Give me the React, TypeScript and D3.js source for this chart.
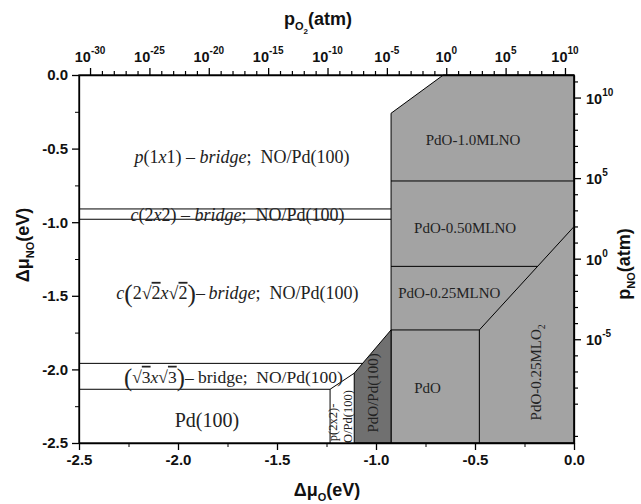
import React, { useRef, useEffect } from "react";
import * as d3 from "d3";

const W = 641;
const H = 504;

// axis ticks
const muOTicks = [-2.5, -2.0, -1.5, -1.0, -0.5, 0.0];
const muOMinor = [-2.25, -1.75, -1.25, -0.75, -0.25];
const muNOTicks = [0.0, -0.5, -1.0, -1.5, -2.0, -2.5];
const muNOMinor = [-0.25, -0.75, -1.25, -1.75, -2.25];
const pO2Exps = [-30, -25, -20, -15, -10, -5, 0, 5, 10];
const pNOExps = [-5, 0, 5, 10];

// phase regions, points are [muO, muNO] in eV
const pdoArea = [[-0.924, -0.26], [-0.66, 0], [0, 0], [0, -2.5], [-0.924, -2.5]];
const pdoPdArea = [[-1.11, -2.5], [-1.11, -2.026], [-0.924, -1.732], [-0.924, -2.5]];
const boundaryLines = [
  [[-2.5, -0.91], [-0.924, -0.91]],
  [[-2.5, -0.98], [-0.924, -0.98]],
  [[-2.5, -1.959], [-1.068, -1.959]],
  [[-2.5, -2.135], [-1.232, -2.135]],
  [[-1.232, -2.135], [-1.11, -2.026]],
  [[-1.232, -2.135], [-1.232, -2.5]],
  [[-0.924, -0.72], [0, -0.72]],
  [[-0.924, -1.3], [-0.184, -1.3]],
  [[0, -1.03], [-0.478, -1.732]],
  [[-0.924, -1.732], [-0.478, -1.732]],
  [[-0.478, -1.732], [-0.478, -2.5]],
];

type Seg = { t: string; it?: boolean; ov?: boolean; big?: boolean; sub?: boolean };

const p1x1Label: Seg[] = [
  { t: "p", it: true }, { t: "(1" }, { t: "x", it: true }, { t: "1) \u2013 " },
  { t: "bridge", it: true }, { t: ";  NO/Pd(100)" },
];
const c2x2Label: Seg[] = [
  { t: "c", it: true }, { t: "(2" }, { t: "x", it: true }, { t: "2) \u2013 " },
  { t: "bridge", it: true }, { t: ";  NO/Pd(100)" },
];
const c2r2Label: Seg[] = [
  { t: "c", it: true }, { t: "(", big: true }, { t: "2\u221A" }, { t: "2", ov: true },
  { t: "x", it: true }, { t: "\u221A" }, { t: "2", ov: true }, { t: ")", big: true },
  { t: "\u2013\u2009" }, { t: "bridge", it: true }, { t: ";  NO/Pd(100)" },
];
const r3Label: Seg[] = [
  { t: "(", big: true }, { t: "\u221A" }, { t: "3", ov: true }, { t: "x", it: true },
  { t: "\u221A" }, { t: "3", ov: true }, { t: ")", big: true }, { t: "\u2013 bridge;  NO/Pd(100)" },
];
const mlo2Label: Seg[] = [{ t: "PdO-0.25MLO" }, { t: "2", sub: true }];

const App = () => {
  const svgRef = useRef<SVGSVGElement>(null);

  useEffect(() => {
    const svg = d3.select(svgRef.current);
    svg.selectAll("*").remove();

    const x = d3.scaleLinear().domain([-2.5, 0]).range([79, 574]);
    const y = d3.scaleLinear().domain([0, -2.5]).range([75, 443]);
    const xTop = d3.scaleLog().domain([10 ** -30.93, 10 ** 10.76]).range([79, 574]);
    const yRight = d3.scaleLog().domain([10 ** 11.4, 10 ** -11.44]).range([75, 443]);

    const line = d3.line<number[]>().x(d => x(d[0])).y(d => y(d[1]));
    const serif = "'Liberation Serif', 'Times New Roman', serif";
    const sans = "'Liberation Sans', Arial, sans-serif";

    // filled regions
    svg.append("path").attr("d", line(pdoArea) + "Z")
      .attr("fill", "#a3a3a3").attr("stroke", "#000").attr("stroke-width", 1);
    svg.append("path").attr("d", line(pdoPdArea) + "Z")
      .attr("fill", "#707070").attr("stroke", "#000").attr("stroke-width", 1);

    svg.append("g").selectAll("path").data(boundaryLines).enter().append("path")
      .attr("d", d => line(d))
      .attr("fill", "none").attr("stroke", "#000").attr("stroke-width", 1);

    // rich text helper
    const rich = (segs: Seg[], px: number, py: number, size: number, rot = 0) => {
      const t = svg.append("text")
        .attr("transform", `translate(${px},${py}) rotate(${rot})`)
        .attr("text-anchor", "middle")
        .attr("dominant-baseline", "central")
        .attr("font-family", serif)
        .attr("font-size", size)
        .attr("fill", "#222")
        .style("white-space", "pre");
      let shifted = false;
      segs.forEach(s => {
        const ts = t.append("tspan").text(s.t);
        if (s.it) ts.attr("font-style", "italic");
        if (s.ov) ts.style("text-decoration", "overline");
        if (s.big) ts.attr("font-size", size * 1.4).attr("font-weight", 300);
        if (s.sub) { ts.attr("font-size", size * 0.65).attr("dy", size * 0.3); shifted = true; }
        else if (shifted) { ts.attr("dy", -size * 0.3); shifted = false; }
      });
      return t;
    };

    rich(p1x1Label, x(-1.677), y(-0.557), 18);
    rich(c2x2Label, x(-1.70), y(-0.952), 18);
    rich(c2r2Label, x(-1.70), y(-1.48), 18);
    rich(r3Label, x(-1.72), y(-2.05), 17.5);
    rich([{ t: "Pd(100)" }], x(-1.854), y(-2.344), 20);
    rich([{ t: "p(2x2)-" }], x(-1.215), y(-2.36), 12.5, -90);
    rich([{ t: "O/Pd(100)" }], x(-1.14), y(-2.32), 12.5, -90);
    rich([{ t: "PdO/Pd(100)" }], x(-1.015), y(-2.16), 15, -90);
    rich([{ t: "PdO" }], x(-0.74), y(-2.126), 15);
    rich(mlo2Label, x(-0.19), y(-2.02), 15, -90);
    rich([{ t: "PdO-1.0MLNO" }], x(-0.51), y(-0.44), 15);
    rich([{ t: "PdO-0.50MLNO" }], x(-0.55), y(-1.04), 15);
    rich([{ t: "PdO-0.25MLNO" }], x(-0.63), y(-1.48), 15);

    // axes
    const fmt = (d: number) => d.toFixed(1);
    const styleAxis = (g: d3.Selection<SVGGElement, unknown, null, undefined>) => {
      g.selectAll("path.domain").attr("stroke-width", 1.3);
      g.selectAll("line").attr("stroke-width", 1.3);
      g.selectAll("text").attr("font-family", sans).attr("font-weight", "bold")
        .attr("font-size", 15).attr("fill", "#111");
    };

    const gB = svg.append("g").attr("transform", `translate(0,${y(-2.5)})`)
      .call(d3.axisBottom(x).tickValues(muOTicks).tickSize(7).tickSizeOuter(0).tickPadding(4).tickFormat(d => fmt(+d)));
    styleAxis(gB);
    svg.append("g").attr("transform", `translate(0,${y(-2.5)})`)
      .call(d3.axisBottom(x).tickValues(muOMinor).tickSize(4).tickFormat(() => ""))
      .call(g => g.select(".domain").remove());

    const gL = svg.append("g").attr("transform", `translate(${x(-2.5)},0)`)
      .call(d3.axisLeft(y).tickValues(muNOTicks).tickSize(7).tickSizeOuter(0).tickPadding(4).tickFormat(d => fmt(+d)));
    styleAxis(gL);
    svg.append("g").attr("transform", `translate(${x(-2.5)},0)`)
      .call(d3.axisLeft(y).tickValues(muNOMinor).tickSize(4).tickFormat(() => ""))
      .call(g => g.select(".domain").remove());

    // top log axis p_O2
    const topMinor = d3.range(-30, 11).filter(e => e % 5 !== 0).map(e => 10 ** e);
    const gT = svg.append("g").attr("transform", `translate(0,${y(0)})`)
      .call(d3.axisTop(xTop).tickValues(pO2Exps.map(e => 10 ** e)).tickSize(7).tickSizeOuter(0).tickFormat(() => ""));
    styleAxis(gT);
    svg.append("g").attr("transform", `translate(0,${y(0)})`)
      .call(d3.axisTop(xTop).tickValues(topMinor).tickSize(4).tickFormat(() => ""))
      .call(g => g.select(".domain").remove()).selectAll("line").attr("stroke-width", 1.2);

    const topLab = svg.append("g").attr("font-family", sans).attr("font-weight", "bold").attr("fill", "#111");
    pO2Exps.forEach(e => {
      const t = topLab.append("text").attr("x", xTop(10 ** e)).attr("y", 61.5)
        .attr("text-anchor", "middle").attr("font-size", 14.5);
      t.append("tspan").text("10");
      t.append("tspan").text(String(e)).attr("font-size", 10).attr("dy", -8);
    });

    // right log axis p_NO
    const rightMinor = d3.range(-11, 12).filter(e => e % 5 !== 0).map(e => 10 ** e);
    const gR = svg.append("g").attr("transform", `translate(${x(0)},0)`)
      .call(d3.axisRight(yRight).tickValues(pNOExps.map(e => 10 ** e)).tickSize(7).tickSizeOuter(0).tickFormat(() => ""));
    styleAxis(gR);
    svg.append("g").attr("transform", `translate(${x(0)},0)`)
      .call(d3.axisRight(yRight).tickValues(rightMinor).tickSize(4).tickFormat(() => ""))
      .call(g => g.select(".domain").remove()).selectAll("line").attr("stroke-width", 1.2);

    const rightLab = svg.append("g").attr("font-family", sans).attr("font-weight", "bold").attr("fill", "#111");
    pNOExps.forEach(e => {
      const t = rightLab.append("text").attr("x", 586).attr("y", yRight(10 ** e) + 6)
        .attr("font-size", 14.5);
      t.append("tspan").text("10");
      t.append("tspan").text(String(e)).attr("font-size", 10).attr("dy", -8);
    });

    // closed frame around the plot
    svg.append("rect").attr("x", x(-2.5)).attr("y", y(0))
      .attr("width", x(0) - x(-2.5)).attr("height", y(-2.5) - y(0))
      .attr("fill", "none").attr("stroke", "#000").attr("stroke-width", 1.3);

    // axis titles
    const title = (px: number, py: number, rot: number, main: string, sub: string, sub2: string, tail: string) => {
      const t = svg.append("text")
        .attr("transform", `translate(${px},${py}) rotate(${rot})`)
        .attr("text-anchor", "middle")
        .attr("font-family", sans).attr("font-weight", "bold").attr("font-size", 18).attr("fill", "#111");
      t.append("tspan").text(main);
      t.append("tspan").text(sub).attr("font-size", 11).attr("dy", 5);
      let back = -5;
      if (sub2) { t.append("tspan").text(sub2).attr("font-size", 8).attr("dy", 4); back = -9; }
      t.append("tspan").text(tail).attr("dy", back);
    };
    title(318, 25, 0, "p", "O", "2", "(atm)");
    title(327, 496, 0, "\u0394\u03BC", "O", "", "(eV)");
    title(29, 245, -90, "\u0394\u03BC", "NO", "", "(eV)");
    title(630, 264, -90, "p", "NO", "", "(atm)");
  }, []);

  return (
    <svg ref={svgRef} width={W} height={H}
      style={{ position: "absolute", left: 0, top: 0, background: "#fff" }} />
  );
};

export default App;
